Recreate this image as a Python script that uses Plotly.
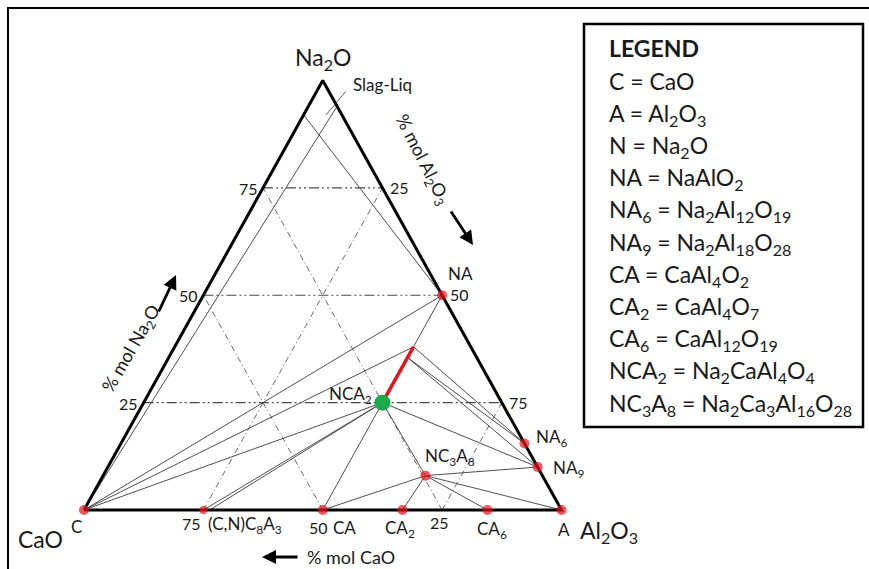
import plotly.graph_objects as go

W, H = 869, 569

# Phase compositions in mol % (Na2O, CaO, Al2O3)
phase = ["C", "A", "CA", "CA2", "CA6", "(C,N)C8A3", "NA", "NA6", "NA9", "NC3A8", "NCA2"]
na2o = [0, 0, 0, 0, 0, 0, 50, 15.5, 10, 8, 25]
cao = [100, 0, 50, 33.3, 15.5, 75, 0, 0, 0, 24.5, 25]
al2o3 = [0, 100, 50, 66.7, 84.5, 25, 50, 84.5, 90, 67.5, 50]

# Further compositions used by the joins: Na2O apex, points on the NCA2-NA join,
# second (C,N)C8A3 tie origin and the limits of the slag-liquid field
extra = ["N", "P", "R", "X2", "L1", "L2"]
extra_na2o = [100, 38, 35.5, 0, 92, 94]
extra_cao = [0, 12, 14.5, 73.7, 8, 0]
extra_al2o3 = [0, 50, 50, 26.3, 0, 6]

# Tie lines between compositions
tie_lines = [
    ("C", "NA"), ("C", "P"), ("C", "NCA2"), ("C", "L2"), ("L1", "NA"),
    ("CA", "NA"), ("(C,N)C8A3", "NCA2"), ("X2", "NCA2"),
    ("NCA2", "NA9"), ("NCA2", "NC3A8"), ("P", "NA6"), ("R", "NA6"), ("R", "NA9"),
    ("NC3A8", "NA9"), ("NC3A8", "A"), ("NC3A8", "CA6"), ("NC3A8", "CA2"), ("NC3A8", "CA"),
]
red_join = ("NCA2", "P")

grid_values = [25, 50, 75]
al_grid = [25, 75]
cao_grid = [25, 50]

legend_lines = [
    "C = CaO",
    "A = Al<sub>2</sub>O<sub>3</sub>",
    "N = Na<sub>2</sub>O",
    "NA = NaAlO<sub>2</sub>",
    "NA<sub>6</sub> = Na<sub>2</sub>Al<sub>12</sub>O<sub>19</sub>",
    "NA<sub>9</sub> = Na<sub>2</sub>Al<sub>18</sub>O<sub>28</sub>",
    "CA = CaAl<sub>4</sub>O<sub>2</sub>",
    "CA<sub>2</sub> = CaAl<sub>4</sub>O<sub>7</sub>",
    "CA<sub>6</sub> = CaAl<sub>12</sub>O<sub>19</sub>",
    "NCA<sub>2</sub> = Na<sub>2</sub>CaAl<sub>4</sub>O<sub>4</sub>",
    "NC<sub>3</sub>A<sub>8</sub> = Na<sub>2</sub>Ca<sub>3</sub>Al<sub>16</sub>O<sub>28</sub>",
]

FONT = "Lato, 'Open Sans', sans-serif"
INK = "#1a1a1a"

comp = {}
for n, a, b, c in zip(phase, na2o, cao, al2o3):
    comp[n] = (a, b, c)
for n, a, b, c in zip(extra, extra_na2o, extra_cao, extra_al2o3):
    comp[n] = (a, b, c)


def xy(na, ca, al):
    s = na + ca + al
    return (al + na / 2) * 100 / s, na * 100 / s


def pxy(name):
    return xy(*comp[name])


def fx(px):
    return px / W


def fy(py):
    return 1 - py / H


def top_off(size):
    # distance from the top of a text box to the middle of its capitals
    return 0.63 * size + 1


fig = go.Figure()

# dash-dot composition grid
gx, gy = [], []
for v in grid_values:
    for p in (xy(v, 100 - v, 0), xy(v, 0, 100 - v)):
        gx.append(p[0]); gy.append(p[1])
    gx.append(None); gy.append(None)
fig.add_trace(go.Scatter(x=gx, y=gy, mode="lines", hoverinfo="skip",
                         line=dict(color="#4a4a4a", width=1.1, dash="10px,3px,2px,3px,2px,3px")))
dx_, dy_ = [], []
for v in al_grid:
    for p in (xy(0, 100 - v, v), xy(100 - v, 0, v)):
        dx_.append(p[0]); dy_.append(p[1])
    dx_.append(None); dy_.append(None)
for v in cao_grid:
    for p in (xy(0, v, 100 - v), xy(100 - v, v, 0)):
        dx_.append(p[0]); dy_.append(p[1])
    dx_.append(None); dy_.append(None)
fig.add_trace(go.Scatter(x=dx_, y=dy_, mode="lines", hoverinfo="skip",
                         line=dict(color="#6a6a6a", width=1, dash="6px,3px,1px,3px")))

# tie lines
tx, ty = [], []
for a, b in tie_lines:
    for n in (a, b):
        p = pxy(n)
        tx.append(p[0]); ty.append(p[1])
    tx.append(None); ty.append(None)
fig.add_trace(go.Scatter(x=tx, y=ty, mode="lines", hoverinfo="skip",
                         line=dict(color="#3c3c3c", width=0.9)))

# red join segment
rx, ry = zip(*[pxy(n) for n in red_join])
fig.add_trace(go.Scatter(x=rx, y=ry, mode="lines", hoverinfo="skip",
                         line=dict(color="#e3141b", width=3.5)))

# triangle outline
ox, oy = zip(*[pxy(n) for n in ("C", "A", "N", "C")])
fig.add_trace(go.Scatter(x=ox, y=oy, mode="lines", hoverinfo="skip",
                         line=dict(color="black", width=3)))

# phase markers
red = [n for n in phase if n != "NCA2"]
mx, my = zip(*[pxy(n) for n in red])
sizes = [8 if n == "(C,N)C8A3" else 10 for n in red]
fig.add_trace(go.Scatter(x=mx, y=my, mode="markers", hoverinfo="skip",
                         marker=dict(color="#e5131b", size=sizes, line=dict(width=0))))
gxp, gyp = pxy("NCA2")
fig.add_trace(go.Scatter(x=[gxp], y=[gyp], mode="markers", hoverinfo="skip",
                         marker=dict(color="#1daa4b", size=16, line=dict(width=0))))

ann = []


def label(x, y, text, dx=0, dy=0, size=17, anchor="center"):
    # (dx, dy): offset in px of the capitals' middle from the point (right, down)
    ann.append(dict(x=x, y=y, xref="x", yref="y", text=text, showarrow=False,
                    xshift=dx, yshift=-dy + top_off(size), xanchor=anchor, yanchor="top",
                    font=dict(family=FONT, size=size, color=INK)))


def paper_text(px, py, text, size, anchor="center", angle=0):
    if angle:
        ann.append(dict(x=fx(px), y=fy(py), xref="paper", yref="paper", text=text,
                        showarrow=False, xanchor="center", yanchor="middle", textangle=angle,
                        font=dict(family=FONT, size=size, color=INK)))
    else:
        ann.append(dict(x=fx(px), y=fy(py - top_off(size)), xref="paper", yref="paper",
                        text=text, showarrow=False, xanchor=anchor, yanchor="top",
                        font=dict(family=FONT, size=size, color=INK)))


# phase labels (offsets in px: right, down)
phase_labels = {
    "C": ("C", -8, 16),
    "A": ("A", 2, 19),
    "CA": ("CA", 22, 17),
    "CA2": ("CA<sub>2</sub>", -2, 17),
    "CA6": ("CA<sub>6</sub>", 5, 18),
    "(C,N)C8A3": ("(C,N)C<sub>8</sub>A<sub>3</sub>", 42, 13),
    "NA": ("NA", 18, -23),
    "NA6": ("NA<sub>6</sub>", 28, -8),
    "NA9": ("NA<sub>9</sub>", 31, 0),
    "NC3A8": ("NC<sub>3</sub>A<sub>8</sub>", 25, -21),
    "NCA2": ("NCA<sub>2</sub>", -32, -10),
}
for n, (t, ddx, ddy) in phase_labels.items():
    x, y = pxy(n)
    label(x, y, t, ddx, ddy)

# tick labels on the three edges
for v in grid_values:
    x, y = xy(v, 100 - v, 0)
    label(x, y, str(v), -15, 0, size=16)
    x, y = xy(100 - v, 0, v)
    label(x, y, str(v), 17, -1, size=16)
bottom_shift = {75: (-12, 13), 50: (-4, 17), 25: (-3, 12)}
for v in grid_values:
    x, y = xy(0, v, 100 - v)
    label(x, y, str(v), *bottom_shift[v], size=16)

# vertex oxide names
for n, t, ddx, ddy in (("N", "Na<sub>2</sub>O", 0, -24),
                       ("C", "CaO", -44, 28),
                       ("A", "Al<sub>2</sub>O<sub>3</sub>", 47, 19)):
    x, y = pxy(n)
    label(x, y, t, ddx, ddy, size=23)

# axis titles and direction arrows
paper_text(131, 349, "% mol Na<sub>2</sub>O", 18, angle=-60)
paper_text(422, 160, "% mol Al<sub>2</sub>O<sub>3</sub>", 18, angle=63)
paper_text(351, 556, "% mol CaO", 18)
for hx, hy, tx_, ty_ in ((176, 275, 158, 313), (473, 245, 450, 210), (262, 557, 299, 557)):
    ann.append(dict(x=fx(hx), y=fy(hy), xref="paper", yref="paper", text="",
                    showarrow=True, arrowhead=2, arrowsize=1, arrowwidth=2.8,
                    arrowcolor="black", ax=tx_ - hx, ay=ty_ - hy, axref="pixel", ayref="pixel"))

# slag-liquid field
paper_text(382, 84, "Slag-Liq", 17)
lx, ly = xy(92, 3.3, 4.7)
ann.append(dict(x=lx, y=ly, xref="x", yref="y", text="", showarrow=True, arrowhead=0,
                arrowwidth=0.8, arrowcolor="#333", ax=21, ay=-25))

# legend box content
paper_text(607, 47, "<b>LEGEND</b>", 23, anchor="left")
for i, t in enumerate(legend_lines):
    paper_text(607, 80 + i * 32.2, t, 23, anchor="left")

shapes = [
    dict(type="rect", xref="paper", yref="paper", x0=fx(8), y0=fy(8), x1=fx(880), y1=fy(590),
         line=dict(color="black", width=2)),
    dict(type="rect", xref="paper", yref="paper", x0=fx(584), y0=fy(24), x1=fx(863), y1=fy(427),
         line=dict(color="black", width=2.5), fillcolor="white", layer="below"),
]

OX, OY, SX, SY = 84, 510, 4.775, 4.295
fig.update_layout(
    width=W, height=H, margin=dict(l=0, r=0, t=0, b=0),
    paper_bgcolor="white", plot_bgcolor="white", showlegend=False,
    xaxis=dict(range=[-OX / SX, (W - OX) / SX], visible=False, fixedrange=True),
    yaxis=dict(range=[-(H - OY) / SY, OY / SY], visible=False, fixedrange=True),
    annotations=ann, shapes=shapes,
)

fig.write_html("out.html")
